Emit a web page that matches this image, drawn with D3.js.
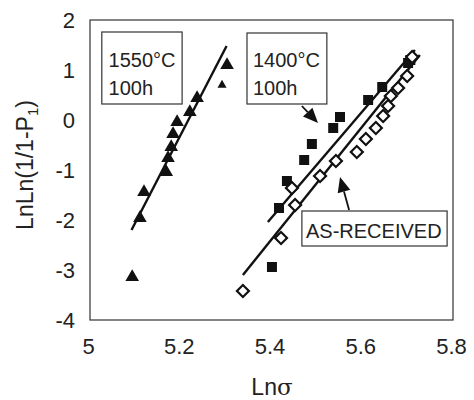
<!DOCTYPE html>
<html><head><meta charset="utf-8">
<script src="https://cdn.jsdelivr.net/npm/d3@7"></script>
<style>
html,body{margin:0;padding:0;background:#fff;}
svg{display:block;font-family:"Liberation Sans",Arial,sans-serif;}
</style></head>
<body>
<svg id="chart" width="474" height="400"></svg>
<script>
// ---- data ----
const xTicks = [5, 5.2, 5.4, 5.6, 5.8];
const yTicks = [2, 1, 0, -1, -2, -3, -4];

// 1550°C 100h (filled triangles)
const t1550X = [5.093, 5.110, 5.119, 5.168, 5.172, 5.179, 5.183, 5.192, 5.220, 5.236, 5.291, 5.302];
const t1550Y = [-3.14, -1.96, -1.44, -1.04, -0.76, -0.54, -0.28, -0.04, 0.16, 0.44, 0.70, 1.10];
const t1550Small = [false,false,false,false,false,false,false,false,false,false,true,false];

// 1400°C 100h (filled squares)
const s1400X = [5.401, 5.4165, 5.434, 5.472, 5.489, 5.536, 5.551, 5.613, 5.644, 5.701, 5.706];
const s1400Y = [-2.94, -1.76, -1.22, -0.80, -0.48, -0.16, 0.06, 0.40, 0.66, 1.14, 1.20];

// As-received (open diamonds)
const arX = [5.337, 5.421, 5.452, 5.445, 5.507, 5.542, 5.588, 5.608, 5.630, 5.646, 5.657, 5.663, 5.679, 5.699, 5.710];
const arY = [-3.42, -2.36, -1.70, -1.36, -1.12, -0.82, -0.64, -0.38, -0.16, 0.08, 0.28, 0.48, 0.64, 0.88, 1.26];

// fitted lines [x0,y0,x1,y1]
const fit1550 = [5.0915, -2.20, 5.301, 1.48];
const fit1400 = [5.392, -2.04, 5.716, 1.40];
const fitAR   = [5.337, -3.10, 5.727, 1.30];

// ---- chart ----
const svg = d3.select("#chart");
const x = d3.scaleLinear().domain([5, 5.8]).range([90, 453]);
const y = d3.scaleLinear().domain([-4, 2]).range([320, 20]);

// frame
svg.append("rect").attr("x", x(5)).attr("y", y(2))
  .attr("width", x(5.8) - x(5)).attr("height", y(-4) - y(2))
  .attr("fill", "none").attr("stroke", "#333").attr("stroke-width", 1.2);

// axes (labels only)
const gx = svg.append("g").attr("transform", `translate(0,${y(-4)})`)
  .call(d3.axisBottom(x).tickValues(xTicks).tickSize(0).tickPadding(18).tickFormat(d => String(d)));
const gy = svg.append("g").attr("transform", `translate(${x(5)},0)`)
  .call(d3.axisLeft(y).tickValues(yTicks).tickSize(0).tickPadding(15).tickFormat(d => String(d)));
[gx, gy].forEach(g => {
  g.select(".domain").remove();
  g.selectAll("text").attr("font-size", 22).attr("fill", "#222")
    .attr("font-family", '"Liberation Sans",Arial,sans-serif');
});
gx.selectAll("text").attr("dx", -2);

// axis titles
const yt = svg.append("text").attr("transform", "translate(33,165) rotate(-90)")
  .attr("text-anchor", "middle").attr("font-size", 23).attr("fill", "#222");
yt.append("tspan").text("LnLn(1/1-P");
yt.append("tspan").text("1").attr("font-size", 15).attr("dy", 5);
yt.append("tspan").text(")").attr("dy", -5);

const xt = svg.append("text").attr("x", 272).attr("y", 395)
  .attr("text-anchor", "middle").attr("font-size", 23).attr("fill", "#222");
xt.append("tspan").text("Ln");
xt.append("tspan").text("σ").attr("font-family", '"DejaVu Serif","Liberation Serif",serif');

// fit lines
function fitLine(f) {
  svg.append("line").attr("x1", x(f[0])).attr("y1", y(f[1]))
    .attr("x2", x(f[2])).attr("y2", y(f[3]))
    .attr("stroke", "#111").attr("stroke-width", 2.4);
}
fitLine(fit1550); fitLine(fit1400); fitLine(fitAR);

// markers
const triData = t1550X.map((v, i) => ({x: v, y: t1550Y[i], small: t1550Small[i]}));
svg.append("g").selectAll("path").data(triData).join("path")
  .attr("transform", d => `translate(${x(d.x)},${y(d.y)})`)
  .attr("d", d => d3.symbol(d3.symbolTriangle, d.small ? 36 : 80)())
  .attr("fill", "#111");

const sqData = s1400X.map((v, i) => ({x: v, y: s1400Y[i]}));
svg.append("g").selectAll("path").data(sqData).join("path")
  .attr("transform", d => `translate(${x(d.x)},${y(d.y)})`)
  .attr("d", d3.symbol(d3.symbolSquare, 100)())
  .attr("fill", "#111");

const dmData = arX.map((v, i) => ({x: v, y: arY[i]}));
svg.append("g").selectAll("path").data(dmData).join("path")
  .attr("transform", d => `translate(${x(d.x)},${y(d.y)}) rotate(45)`)
  .attr("d", d3.symbol(d3.symbolSquare, 72)())
  .attr("fill", "#fff").attr("stroke", "#111").attr("stroke-width", 2.2);

// annotation boxes
function box(x0, y0, x1, y1, lines, tx, ty0, lh) {
  svg.append("rect").attr("x", x(x0)).attr("y", y(y0))
    .attr("width", x(x1) - x(x0)).attr("height", y(y1) - y(y0))
    .attr("fill", "#fff").attr("stroke", "#333").attr("stroke-width", 1.2);
  lines.forEach((t, i) => {
    svg.append("text").attr("x", x(tx)).attr("y", y(ty0) + i * lh)
      .attr("font-size", 20).attr("fill", "#222").text(t);
  });
}
box(5.026, 1.76, 5.203, 0.32, ["1550°C", "100h"], 5.041, 1.06, 28);
box(5.346, 1.74, 5.522, 0.32, ["1400°C", "100h"], 5.359, 1.06, 28);
box(5.467, -1.82, 5.787, -2.52, ["AS-RECEIVED"], 5.476, -2.36, 0);

// arrows
function arrow(x0, y0, x1, y1) {
  const px0 = x(x0), py0 = y(y0), px1 = x(x1), py1 = y(y1);
  const a = Math.atan2(py1 - py0, px1 - px0);
  const L = 15, W = 6.5;
  const bx = px1 - L * Math.cos(a), by = py1 - L * Math.sin(a);
  svg.append("line").attr("x1", px0).attr("y1", py0).attr("x2", bx).attr("y2", by)
    .attr("stroke", "#111").attr("stroke-width", 1.8);
  const pts = [[px1, py1],
    [bx + W * Math.sin(a), by - W * Math.cos(a)],
    [bx - W * Math.sin(a), by + W * Math.cos(a)]];
  svg.append("path").attr("d", d3.line()(pts) + "Z").attr("fill", "#111");
}
arrow(5.467, 0.28, 5.5025, -0.06);
arrow(5.571, -1.80, 5.551, -1.14);
</script>
</body></html>
